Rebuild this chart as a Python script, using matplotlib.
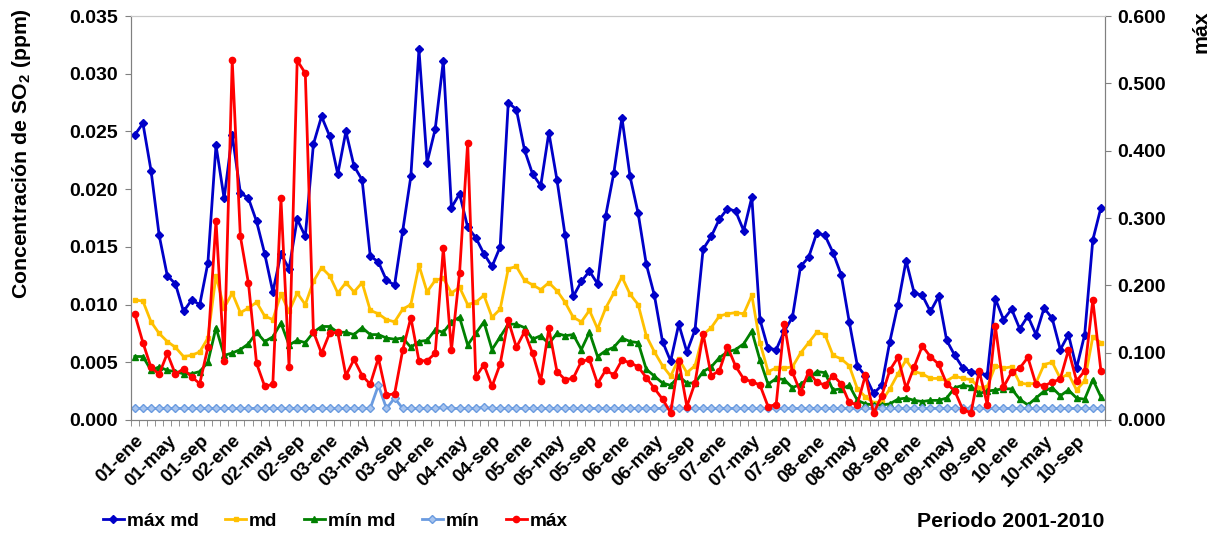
import numpy as np
import matplotlib
matplotlib.use("Agg")
import matplotlib.pyplot as plt
from matplotlib.ticker import FormatStrFormatter, MultipleLocator, FixedLocator

plt.rcParams["font.family"] = ["Liberation Sans", "DejaVu Sans"]
plt.rcParams["font.weight"] = "bold"
plt.rcParams["mathtext.fontset"] = "custom"
plt.rcParams["mathtext.bf"] = "Liberation Sans:bold"

# monthly SO2 statistics, jan 2001 .. dec 2010
years = ["01", "02", "03", "04", "05", "06", "07", "08", "09", "10"]
label_months = ["ene", "may", "sep"]

max_md = [
    0.0247, 0.0257, 0.0216, 0.0160, 0.0125, 0.0118, 0.0094, 0.0104, 0.0100, 0.0136,
    0.0238, 0.0192, 0.0247, 0.0197, 0.0192, 0.0172, 0.0144, 0.0111, 0.0144, 0.0131,
    0.0174, 0.0159, 0.0239, 0.0263, 0.0246, 0.0213, 0.0250, 0.0220, 0.0208, 0.0142,
    0.0137, 0.0121, 0.0117, 0.0164, 0.0211, 0.0321, 0.0223, 0.0252, 0.0311, 0.0184,
    0.0196, 0.0167, 0.0158, 0.0144, 0.0133, 0.0150, 0.0275, 0.0269, 0.0234, 0.0213,
    0.0203, 0.0249, 0.0208, 0.0160, 0.0107, 0.0120, 0.0129, 0.0118, 0.0177, 0.0214,
    0.0262, 0.0211, 0.0179, 0.0135, 0.0108, 0.0068, 0.0051, 0.0083, 0.0059, 0.0078,
    0.0148, 0.0159, 0.0174, 0.0183, 0.0181, 0.0164, 0.0193, 0.0087, 0.0062, 0.0061,
    0.0077, 0.0089, 0.0133, 0.0141, 0.0162, 0.0160, 0.0145, 0.0126, 0.0085, 0.0047,
    0.0038, 0.0023, 0.0030, 0.0068, 0.0100, 0.0138, 0.0110, 0.0108, 0.0094, 0.0107,
    0.0069, 0.0056, 0.0045, 0.0042, 0.0041, 0.0039, 0.0105, 0.0087, 0.0096, 0.0079,
    0.0090, 0.0074, 0.0097, 0.0088, 0.0061, 0.0074, 0.0045, 0.0074, 0.0156, 0.0184,
]
md = [
    0.0104, 0.0103, 0.0085, 0.0075, 0.0068, 0.0063, 0.0055, 0.0056, 0.0059, 0.0071,
    0.0125, 0.0097, 0.0110, 0.0093, 0.0097, 0.0102, 0.0090, 0.0087, 0.0109, 0.0094,
    0.0110, 0.0100, 0.0120, 0.0132, 0.0125, 0.0110, 0.0119, 0.0111, 0.0119, 0.0095,
    0.0092, 0.0087, 0.0085, 0.0096, 0.0100, 0.0134, 0.0111, 0.0121, 0.0123, 0.0110,
    0.0115, 0.0100, 0.0102, 0.0108, 0.0089, 0.0096, 0.0131, 0.0133, 0.0121, 0.0117,
    0.0113, 0.0119, 0.0112, 0.0102, 0.0089, 0.0085, 0.0095, 0.0079, 0.0097, 0.0110,
    0.0124, 0.0109, 0.0100, 0.0073, 0.0059, 0.0047, 0.0038, 0.0053, 0.0041, 0.0047,
    0.0074, 0.0080, 0.0090, 0.0092, 0.0093, 0.0092, 0.0108, 0.0067, 0.0042, 0.0045,
    0.0045, 0.0046, 0.0058, 0.0067, 0.0076, 0.0074, 0.0056, 0.0053, 0.0047, 0.0027,
    0.0020, 0.0015, 0.0016, 0.0027, 0.0040, 0.0052, 0.0042, 0.0040, 0.0036, 0.0036,
    0.0034, 0.0038, 0.0036, 0.0035, 0.0028, 0.0029, 0.0047, 0.0045, 0.0046, 0.0032,
    0.0031, 0.0032, 0.0048, 0.0050, 0.0036, 0.0040, 0.0026, 0.0034, 0.0072, 0.0067,
]
min_md = [
    0.0055, 0.0055, 0.0043, 0.0046, 0.0043, 0.0042, 0.0040, 0.0040, 0.0042, 0.0050,
    0.0080, 0.0056, 0.0058, 0.0061, 0.0066, 0.0076, 0.0068, 0.0072, 0.0084, 0.0065,
    0.0069, 0.0067, 0.0076, 0.0081, 0.0081, 0.0076, 0.0076, 0.0074, 0.0080, 0.0074,
    0.0074, 0.0071, 0.0070, 0.0071, 0.0063, 0.0068, 0.0069, 0.0078, 0.0076, 0.0085,
    0.0089, 0.0065, 0.0075, 0.0085, 0.0061, 0.0072, 0.0083, 0.0083, 0.0080, 0.0070,
    0.0073, 0.0066, 0.0075, 0.0073, 0.0074, 0.0061, 0.0076, 0.0055, 0.0060, 0.0063,
    0.0071, 0.0068, 0.0067, 0.0044, 0.0038, 0.0032, 0.0030, 0.0038, 0.0032, 0.0032,
    0.0042, 0.0046, 0.0054, 0.0059, 0.0061, 0.0066, 0.0077, 0.0052, 0.0031, 0.0036,
    0.0035, 0.0028, 0.0031, 0.0036, 0.0042, 0.0041, 0.0026, 0.0027, 0.0030, 0.0017,
    0.0014, 0.0013, 0.0013, 0.0014, 0.0018, 0.0019, 0.0017, 0.0016, 0.0017, 0.0017,
    0.0019, 0.0028, 0.0030, 0.0029, 0.0023, 0.0025, 0.0026, 0.0027, 0.0027, 0.0018,
    0.0013, 0.0019, 0.0025, 0.0028, 0.0021, 0.0026, 0.0019, 0.0018, 0.0035, 0.0020,
]
min_v = [
    0.0010, 0.0010, 0.0010, 0.0010, 0.0010, 0.0010, 0.0010, 0.0010, 0.0010, 0.0010,
    0.0010, 0.0010, 0.0010, 0.0010, 0.0010, 0.0010, 0.0010, 0.0010, 0.0010, 0.0010,
    0.0010, 0.0010, 0.0010, 0.0010, 0.0010, 0.0010, 0.0010, 0.0010, 0.0010, 0.0010,
    0.0030, 0.0010, 0.0019, 0.0010, 0.0010, 0.0010, 0.0010, 0.0010, 0.0011, 0.0010,
    0.0010, 0.0010, 0.0010, 0.0011, 0.0010, 0.0010, 0.0010, 0.0010, 0.0010, 0.0010,
    0.0010, 0.0010, 0.0010, 0.0010, 0.0010, 0.0010, 0.0010, 0.0010, 0.0010, 0.0010,
    0.0010, 0.0010, 0.0010, 0.0010, 0.0010, 0.0010, 0.0010, 0.0010, 0.0010, 0.0010,
    0.0010, 0.0010, 0.0010, 0.0010, 0.0010, 0.0010, 0.0010, 0.0010, 0.0010, 0.0010,
    0.0010, 0.0010, 0.0010, 0.0010, 0.0010, 0.0010, 0.0010, 0.0010, 0.0010, 0.0010,
    0.0010, 0.0010, 0.0010, 0.0010, 0.0010, 0.0010, 0.0010, 0.0010, 0.0010, 0.0010,
    0.0010, 0.0010, 0.0010, 0.0010, 0.0010, 0.0010, 0.0010, 0.0010, 0.0010, 0.0010,
    0.0010, 0.0010, 0.0010, 0.0010, 0.0010, 0.0010, 0.0010, 0.0010, 0.0010, 0.0010,
]
# hourly maximum, plotted on the secondary axis
max_v = [
    0.157, 0.115, 0.078, 0.068, 0.099, 0.068, 0.076, 0.064, 0.054, 0.108,
    0.296, 0.088, 0.534, 0.273, 0.203, 0.084, 0.050, 0.053, 0.329, 0.079,
    0.534, 0.515, 0.131, 0.099, 0.129, 0.130, 0.066, 0.090, 0.066, 0.053,
    0.092, 0.037, 0.039, 0.104, 0.152, 0.088, 0.088, 0.099, 0.255, 0.104,
    0.218, 0.412, 0.064, 0.082, 0.050, 0.083, 0.148, 0.108, 0.131, 0.099,
    0.058, 0.136, 0.072, 0.060, 0.062, 0.087, 0.090, 0.054, 0.074, 0.067,
    0.089, 0.085, 0.079, 0.063, 0.047, 0.031, 0.011, 0.088, 0.020, 0.055,
    0.128, 0.066, 0.073, 0.109, 0.080, 0.061, 0.057, 0.052, 0.020, 0.023,
    0.143, 0.071, 0.041, 0.072, 0.056, 0.052, 0.066, 0.054, 0.026, 0.023,
    0.067, 0.010, 0.036, 0.074, 0.093, 0.047, 0.079, 0.110, 0.094, 0.083,
    0.054, 0.043, 0.015, 0.011, 0.073, 0.023, 0.139, 0.049, 0.071, 0.077,
    0.093, 0.053, 0.051, 0.056, 0.061, 0.104, 0.058, 0.073, 0.178, 0.073,
]

x = np.arange(len(max_md))
tick_labels = [f"{y}-{m}" for y in years for m in label_months]

TICK_FS = 14
XTICK_FS = 13.5
LEG_FS = 13.7
TITLE_FS = 15.3

fig = plt.figure(figsize=(12.14, 5.34), dpi=100)
ax = fig.add_axes([0.1077, 0.2135, 0.8025, 0.7565])
ax2 = ax.twinx()

lw = 2.0
h1, = ax.plot(x, max_md, color="#0000C8", lw=lw, marker="D", ms=4.5, label="máx md")
h2, = ax.plot(x, md, color="#FFC000", lw=lw, marker="s", ms=3.5, label="md")
h3, = ax.plot(x, min_md, color="#008000", lw=lw, marker="^", ms=4.5, label="mín md")
h4, = ax.plot(x, min_v, color="#6A9BE0", lw=lw, marker="D", ms=4, mfc="#A8C4EE",
              label="mín")
h5, = ax2.plot(x, max_v, color="#FF0000", lw=lw, marker="o", ms=4.5, label="máx")

ax.set_xlim(-0.5, len(x) - 0.5)
ax.set_ylim(0, 0.035)
ax2.set_ylim(0, 0.6)
ax.yaxis.set_major_locator(MultipleLocator(0.005))
ax2.yaxis.set_major_locator(MultipleLocator(0.1))
ax.yaxis.set_major_formatter(FormatStrFormatter("%.3f"))
ax2.yaxis.set_major_formatter(FormatStrFormatter("%.3f"))

ax.xaxis.set_major_locator(FixedLocator(x[::4]))
ax.set_xticklabels(tick_labels, rotation=45, ha="right", rotation_mode="anchor",
                   fontsize=XTICK_FS, fontweight="bold")
ax.xaxis.set_minor_locator(FixedLocator(np.arange(-0.5, len(x), 1.0)))
ax.tick_params(axis="x", which="major", length=0, pad=9)
ax.tick_params(axis="x", which="minor", length=4, color="#808080")
for a in (ax, ax2):
    a.tick_params(axis="y", length=4, color="#808080", labelsize=TICK_FS, pad=5)
    for lab in a.get_yticklabels():
        lab.set_fontweight("bold")
    for side in ("left", "right", "bottom"):
        a.spines[side].set_color("#808080")
    a.spines["top"].set_color("#C8C8C8")

fig.text(0.018, 0.713, "Concentración de SO$_\\mathbf{2}$ (ppm)", rotation=90,
         ha="center", va="center", fontsize=TITLE_FS, fontweight="bold")
fig.text(0.9893, 0.981, "máx", rotation=90, ha="center", va="top",
         fontsize=TITLE_FS, fontweight="bold")

fig.legend(handles=[h1, h2, h3, h4, h5], loc="center left",
           bbox_to_anchor=(103 / 1214, 0.0243), ncol=5, frameon=False,
           borderaxespad=0, borderpad=0,
           handlelength=1.1, handletextpad=0.15, columnspacing=1.4,
           prop={"size": LEG_FS, "weight": "bold"})
fig.text(0.9094, 0.0243, "Periodo 2001-2010", ha="right", va="center",
         fontsize=TITLE_FS, fontweight="bold")

fig.savefig("out.png", dpi=100)
